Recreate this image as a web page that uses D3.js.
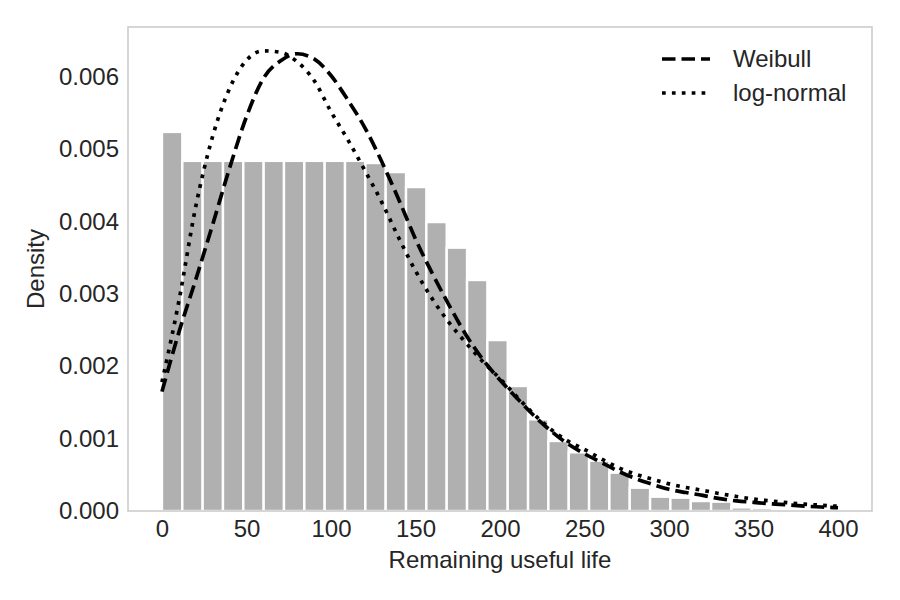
<!DOCTYPE html>
<html lang="en">
  <head>
    <meta charset="UTF-8" />
    <title>Remaining useful life</title>
    <script src="https://d3js.org/d3.v7.min.js"></script>
    <style>
      body { margin: 0; background: #fff; }
      text { font-family: "Liberation Sans", Arial, sans-serif; fill: #262626; }
    </style>
  </head>
  <body>
    <svg width="900" height="600" id="chart"></svg>

    <script>
      // histogram: 30 equal bins from 0 to ~361
      const histRange = [0, 361];
      const histDensity = [
        0.00524, 0.00484, 0.00484, 0.00484, 0.00484, 0.00484, 0.00484, 0.00484,
        0.00484, 0.00484, 0.00481, 0.004685, 0.004478, 0.003994, 0.00364,
        0.003193, 0.002363, 0.001728, 0.001267, 0.000968, 0.000811, 0.000696,
        0.00053, 0.000322, 0.000198, 0.000184, 0.000138, 0.000129, 0.00005, 0.00004
      ];

      // fitted curves (x every 10)
      const curveX = d3.range(0, 401, 10);
      const weibull = [
        1.65, 2.47, 3.2, 3.96, 4.74, 5.45, 5.98, 6.22, 6.32, 6.25,
        6.02, 5.68, 5.3, 4.83, 4.31, 3.76, 3.28, 2.84, 2.43, 2.09,
        1.81, 1.56, 1.32, 1.11, 0.93, 0.79, 0.67, 0.55, 0.45, 0.37,
        0.3, 0.255, 0.215, 0.17, 0.14, 0.12, 0.1, 0.085, 0.068, 0.055, 0.045
      ].map((v) => v / 1000);
      const logNormal = [
        1.78, 2.9, 4.21, 5.18, 5.84, 6.23, 6.36, 6.34, 6.21, 5.95,
        5.52, 5.13, 4.71, 4.27, 3.78, 3.32, 2.93, 2.6, 2.32, 2.06,
        1.83, 1.58, 1.34, 1.13, 0.97, 0.85, 0.72, 0.6, 0.51, 0.44,
        0.375, 0.325, 0.285, 0.24, 0.2, 0.165, 0.14, 0.115, 0.095, 0.08, 0.065
      ].map((v) => v / 1000);

      const xTicks = [0, 50, 100, 150, 200, 250, 300, 350, 400];
      const yTicks = [0, 0.001, 0.002, 0.003, 0.004, 0.005, 0.006];
      const legendNames = ["Weibull", "log-normal"];

      const svg = d3.select("#chart");
      const margin = { top: 27, right: 28, bottom: 89, left: 128 };
      const width = +svg.attr("width") - margin.left - margin.right;
      const height = +svg.attr("height") - margin.top - margin.bottom;
      const g = svg
        .append("g")
        .attr("transform", "translate(" + margin.left + "," + margin.top + ")");

      const xScale = d3.scaleLinear().domain([-20.1, 420.1]).range([0, width]);
      const yScale = d3.scaleLinear().domain([0, 0.00669]).range([height, 0]);

      g.append("clipPath")
        .attr("id", "clip")
        .append("rect")
        .attr("width", width)
        .attr("height", height);

      const plot = g.append("g").attr("clip-path", "url(#clip)");

      // bars
      const binW = (histRange[1] - histRange[0]) / histDensity.length;
      plot
        .selectAll("rect.bar")
        .data(histDensity)
        .join("rect")
        .attr("class", "bar")
        .attr("x", (d, i) => xScale(histRange[0] + i * binW))
        .attr("width", (d, i) => xScale(histRange[0] + (i + 1) * binW) - xScale(histRange[0] + i * binW))
        .attr("y", (d) => yScale(d))
        .attr("height", (d) => yScale(0) - yScale(d))
        .attr("fill", "#b0b0b0")
        .attr("stroke", "#fff")
        .attr("stroke-width", 2.4);

      const line = d3
        .line()
        .x((d) => xScale(d[0]))
        .y((d) => yScale(d[1]))
        .curve(d3.curveMonotoneX);

      const styles = [
        { dash: "13.5,6", cap: "butt" },
        { dash: "3.7,6.2", cap: "butt" },
      ];

      [weibull, logNormal].forEach((ys, k) => {
        plot
          .append("path")
          .datum(curveX.map((x, i) => [x, ys[i]]))
          .attr("d", line)
          .attr("fill", "none")
          .attr("stroke", "#000")
          .attr("stroke-width", 3.7)
          .attr("stroke-dasharray", styles[k].dash)
          .attr("stroke-linecap", styles[k].cap);
      });

      // axes
      const xAxis = g
        .append("g")
        .attr("transform", "translate(0," + height + ")")
        .call(d3.axisBottom(xScale).tickValues(xTicks).tickSize(0).tickPadding(9));
      const yAxis = g
        .append("g")
        .call(d3.axisLeft(yScale).tickValues(yTicks).tickFormat(d3.format(".3f")).tickSize(0).tickPadding(9));

      [xAxis, yAxis].forEach((a) => {
        a.select(".domain").remove();
        a.selectAll("text")
          .attr("font-size", 24)
          .attr("font-family", "Liberation Sans, Arial, sans-serif")
          .attr("fill", "#262626");
      });

      // frame
      g.append("rect")
        .attr("width", width)
        .attr("height", height)
        .attr("fill", "none")
        .attr("stroke", "#cccccc")
        .attr("stroke-width", 1.6);

      g.append("text")
        .attr("x", width / 2)
        .attr("y", height + 57)
        .attr("text-anchor", "middle")
        .attr("font-size", 24)
        .text("Remaining useful life");

      g.append("text")
        .attr("transform", "translate(" + (36 - margin.left) + "," + height / 2 + ") rotate(-90)")
        .attr("dy", "0.35em")
        .attr("text-anchor", "middle")
        .attr("font-size", 24)
        .text("Density");

      // legend
      const legend = g.append("g").attr("transform", "translate(" + (662 - margin.left) + "," + (59 - margin.top) + ")");
      legendNames.forEach((name, k) => {
        const row = legend.append("g").attr("transform", "translate(0," + k * 34 + ")");
        row.append("line")
          .attr("x1", 0)
          .attr("x2", 48)
          .attr("stroke", "#000")
          .attr("stroke-width", 3.7)
          .attr("stroke-dasharray", styles[k].dash)
          .attr("stroke-linecap", styles[k].cap);
        row.append("text")
          .attr("x", 71)
          .attr("dy", "0.35em")
          .attr("font-size", 24)
          .text(name);
      });
    </script>
  </body>
</html>
